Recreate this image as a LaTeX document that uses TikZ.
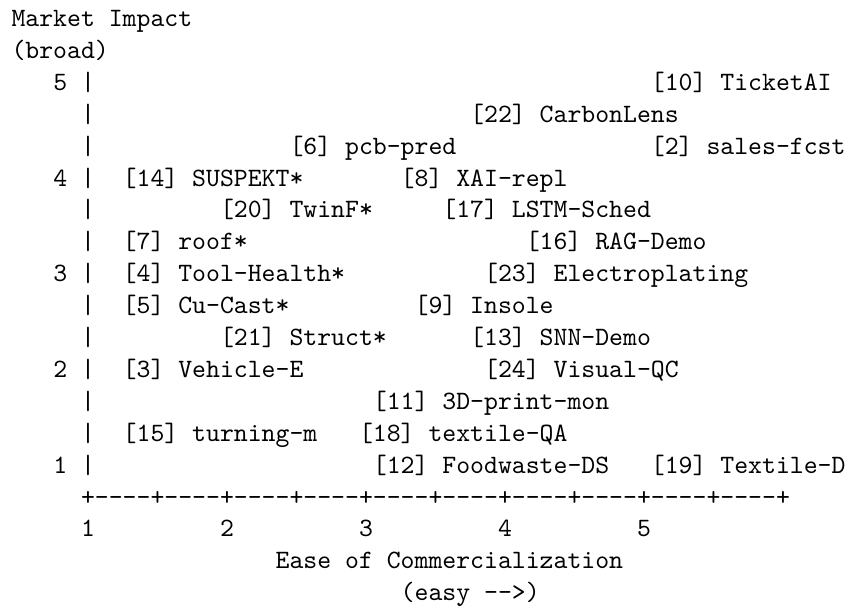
\documentclass[tikz,border=0pt]{standalone}
\usepackage{fontspec}
\begin{document}
\begin{tikzpicture}[x=0.3777pt,y=-0.3777pt,
  txt/.style={inner sep=0pt,outer sep=0pt,anchor=base west,font=\fontsize{10}{12}\selectfont\ttfamily}]
\fill[white] (0,0) rectangle (853,607);
\useasboundingbox (0,0) rectangle (853,607);
\newcommand\putcell[4]{\node[txt] (#1) at ({11.55+13.9*#2},{26.5+31.9*(#3-1)}) {#4};}
% y-axis title
\putcell{ytitle}{0}{1}{Market Impact}
\putcell{ysub}{0}{2}{(broad)}
% y-axis ticks and bars
\putcell{y5}{3}{3}{5}
\putcell{y4}{3}{6}{4}
\putcell{y3}{3}{9}{3}
\putcell{y2}{3}{12}{2}
\putcell{y1}{3}{15}{1}
\foreach \r in {3,...,15}{\putcell{bar\r}{5}{\r}{|}}
% items
\putcell{p10}{46}{3}{[10] TicketAI}
\putcell{p22}{33}{4}{[22] CarbonLens}
\putcell{p6}{20}{5}{[6] pcb-pred}
\putcell{p2}{46}{5}{[2] sales-fcst}
\putcell{p14}{8}{6}{[14] SUSPEKT*}
\putcell{p8}{28}{6}{[8] XAI-repl}
\putcell{p20}{15}{7}{[20] TwinF*}
\putcell{p17}{31}{7}{[17] LSTM-Sched}
\putcell{p7}{8}{8}{[7] roof*}
\putcell{p16}{37}{8}{[16] RAG-Demo}
\putcell{p4}{8}{9}{[4] Tool-Health*}
\putcell{p23}{34}{9}{[23] Electroplating}
\putcell{p5}{8}{10}{[5] Cu-Cast*}
\putcell{p9}{29}{10}{[9] Insole}
\putcell{p21}{15}{11}{[21] Struct*}
\putcell{p13}{33}{11}{[13] SNN-Demo}
\putcell{p3}{8}{12}{[3] Vehicle-E}
\putcell{p24}{34}{12}{[24] Visual-QC}
\putcell{p11}{26}{13}{[11] 3D-print-mon}
\putcell{p15}{8}{14}{[15] turning-m}
\putcell{p18}{25}{14}{[18] textile-QA}
\putcell{p12}{26}{15}{[12] Foodwaste-DS}
\putcell{p19}{46}{15}{[19] Textile-D}
% x-axis
\putcell{xaxis}{5}{16}{+----+----+----+----+----+----+----+----+----+----+}
\putcell{x1}{5}{17}{1}
\putcell{x2}{15}{17}{2}
\putcell{x3}{25}{17}{3}
\putcell{x4}{35}{17}{4}
\putcell{x5}{45}{17}{5}
\putcell{xtitle}{19}{18}{Ease of Commercialization}
\putcell{xsub}{28}{19}{(easy -->)}
\end{tikzpicture}
\end{document}
